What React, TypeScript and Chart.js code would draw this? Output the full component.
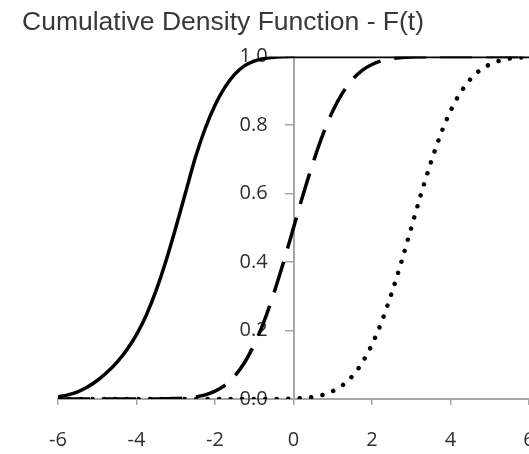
import React, { useEffect, useRef } from "react";
import { Chart, registerables } from "chart.js";

Chart.register(...registerables);

const TITLE = "Cumulative Density Function - F(t)";

const tValues = [
  -6, -5.75, -5.5, -5.25, -5, -4.75, -4.5, -4.25, -4, -3.75, -3.5, -3.25,
  -3, -2.75, -2.5, -2.25, -2, -1.75, -1.5, -1.25, -1, -0.75, -0.5, -0.25,
  0, 0.25, 0.5, 0.75, 1, 1.25, 1.5, 1.75, 2, 2.25, 2.5, 2.75,
  3, 3.25, 3.5, 3.75, 4, 4.25, 4.5, 4.75, 5, 5.25, 5.5, 5.75, 6,
];

const solidF = [
  0.006, 0.012, 0.021, 0.035, 0.054, 0.078, 0.107, 0.143, 0.188, 0.245, 0.317, 0.403,
  0.5, 0.603, 0.705, 0.79, 0.858, 0.91, 0.948, 0.973, 0.987, 0.994, 0.998, 0.9995,
  1, 1, 1, 1, 1, 1, 1, 1, 1, 1, 1, 1,
  1, 1, 1, 1, 1, 1, 1, 1, 1, 1, 1, 1, 1,
];

const dashedF = [
  0, 0, 0, 0, 0, 0, 0, 0, 0, 0.0001, 0.0002, 0.0006,
  0.0013, 0.003, 0.006, 0.012, 0.023, 0.04, 0.067, 0.106, 0.159, 0.227, 0.309, 0.401,
  0.5, 0.599, 0.691, 0.773, 0.841, 0.894, 0.933, 0.96, 0.977, 0.988, 0.994, 0.997,
  0.999, 0.9994, 0.9998, 1, 1, 1, 1, 1, 1, 1, 1, 1, 1,
];

const dottedF = [
  0, 0, 0, 0, 0, 0, 0, 0, 0, 0, 0, 0,
  0, 0, 0, 0, 0, 0, 0, 0, 0, 0, 0.0002, 0.0006,
  0.0013, 0.003, 0.006, 0.012, 0.023, 0.04, 0.067, 0.106, 0.159, 0.227, 0.309, 0.401,
  0.5, 0.599, 0.691, 0.773, 0.841, 0.894, 0.933, 0.96, 0.977, 0.988, 0.994, 0.997, 0.999,
];

const xTicks = [-6, -4, -2, 0, 2, 4, 6];
const yTicks = [0, 0.2, 0.4, 0.6, 0.8, 1.0];

const AXIS_COLOR = "#a6a6a6";
const LABEL_COLOR = "#2e2e2e";
const TICK_FONT = { family: "'Open Sans', Lato, sans-serif", size: 20 };

export default function App() {
  const canvasRef = useRef<HTMLCanvasElement | null>(null);

  useEffect(() => {
    const canvas = canvasRef.current;
    if (!canvas) return;
    const pts = (arr: number[]) => tValues.map((t, i) => ({ x: t, y: arr[i] }));

    const chart = new Chart(canvas, {
      type: "line",
      data: {
        datasets: [
          {
            label: "Solid",
            data: pts(solidF),
            borderColor: "#000000",
            borderWidth: 3.5,
            pointRadius: 0,
            cubicInterpolationMode: "monotone",
            fill: false,
            xAxisID: "x",
            yAxisID: "y",
          },
          {
            label: "Dashed",
            data: pts(dashedF),
            borderColor: "#000000",
            borderWidth: 3.5,
            borderDash: [32, 14],
            pointRadius: 0,
            cubicInterpolationMode: "monotone",
            fill: false,
            xAxisID: "x",
            yAxisID: "y",
          },
          {
            label: "Dotted",
            data: pts(dottedF),
            borderColor: "#000000",
            borderWidth: 4.5,
            borderDash: [0.01, 11.5],
            borderCapStyle: "round",
            pointRadius: 0,
            cubicInterpolationMode: "monotone",
            fill: false,
            xAxisID: "x",
            yAxisID: "y",
          },
        ],
      },
      options: {
        responsive: false,
        maintainAspectRatio: false,
        animation: false,
        layout: { padding: { left: 22, right: 0, top: 0, bottom: 55 } },
        plugins: {
          legend: { display: false },
          tooltip: { enabled: false },
          title: {
            display: true,
            text: TITLE,
            align: "start",
            color: "#383838",
            font: { family: "'Liberation Sans', Arial, sans-serif", size: 26.5, weight: "normal", lineHeight: 1.2 },
            padding: { top: 6.6, bottom: 18.2 },
          },
        },
        scales: {
          x: {
            type: "linear",
            min: -6,
            max: 6,
            position: { y: 0 },
            afterBuildTicks: (s: any) => {
              s.ticks = xTicks.map((v) => ({ value: v }));
            },
            afterFit: (s: any) => {
              s.paddingLeft = 58;
              s.paddingRight = 0;
            },
            ticks: {
              font: TICK_FONT,
              color: LABEL_COLOR,
              padding: 24,
              maxRotation: 0,
              autoSkip: false,
            },
            grid: {
              display: true,
              drawOnChartArea: false,
              drawTicks: true,
              tickLength: 5,
              color: AXIS_COLOR,
              lineWidth: 1.5,
            },
            border: { display: true, color: AXIS_COLOR, width: 2 },
          },
          y: {
            type: "linear",
            min: 0,
            max: 1,
            position: { x: 0 },
            afterBuildTicks: (s: any) => {
              s.ticks = yTicks.map((v) => ({ value: v }));
            },
            ticks: { display: false },
            grid: {
              display: true,
              drawOnChartArea: false,
              drawTicks: true,
              tickLength: 8,
              color: AXIS_COLOR,
              lineWidth: 1.5,
            },
            border: { display: true, color: AXIS_COLOR, width: 2 },
          },
          yLabels: {
            type: "linear",
            axis: "y",
            min: 0,
            max: 1,
            position: { x: -0.657 },
            afterBuildTicks: (s: any) => {
              s.ticks = yTicks.map((v) => ({ value: v }));
            },
            ticks: {
              font: TICK_FONT,
              color: LABEL_COLOR,
              padding: 0,
              callback: (v: any) => Number(v).toFixed(1),
            },
            grid: { display: false },
            border: { display: false },
          },
        },
      } as any,
    });

    return () => {
      chart.destroy();
    };
  }, []);

  return (
    <div
      style={{
        position: "fixed",
        left: 0,
        top: 0,
        width: 529,
        height: 454,
        overflow: "hidden",
        background: "#ffffff",
      }}
    >
      <canvas ref={canvasRef} width={529} height={454} style={{ display: "block" }} />
    </div>
  );
}
